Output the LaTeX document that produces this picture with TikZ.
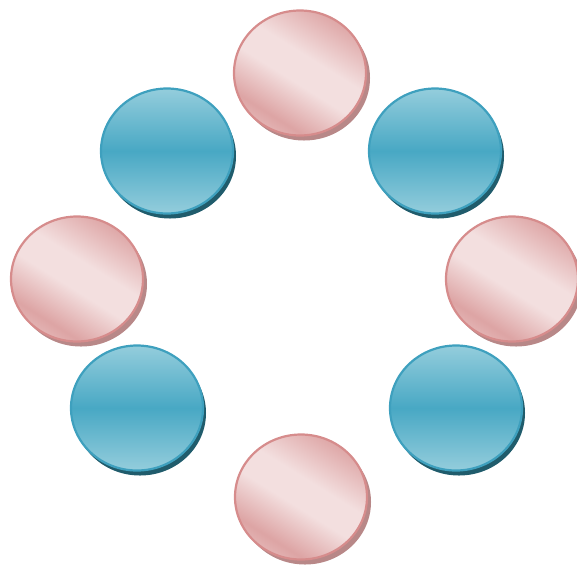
\documentclass[tikz,border=0pt]{standalone}
\usetikzlibrary{shapes.geometric,shadows}
\definecolor{pkLight}{RGB}{243,223,223}
\definecolor{pkMid}{RGB}{232,194,194}
\definecolor{pkDark}{RGB}{221,164,164}
\definecolor{pkBorder}{RGB}{214,140,140}
\definecolor{pkShadow}{RGB}{184,136,136}
\definecolor{blLight}{RGB}{148,205,220}
\definecolor{blMid}{RGB}{72,168,196}
\definecolor{blBorder}{RGB}{62,160,190}
\definecolor{blShadow}{RGB}{32,92,108}
\pgfdeclarehorizontalshading{pinkgrad}{100bp}{%
  color(0bp)=(pkMid); color(20bp)=(pkMid); color(30bp)=(pkDark);
  color(46bp)=(pkLight); color(57bp)=(pkLight); color(76bp)=(pkDark);
  color(100bp)=(pkDark)}
\tikzset{
  disc/.style={ellipse, inner sep=0pt, minimum width=132pt, minimum height=125pt, line width=2.2pt},
  pinkdisc/.style={disc, draw=pkBorder, shading=pinkgrad, shading angle=58,
    drop shadow={shadow xshift=4pt, shadow yshift=-5pt, fill=pkShadow, opacity=1}},
  bluedisc/.style={disc, draw=blBorder, top color=blLight, bottom color=blLight, middle color=blMid,
    drop shadow={shadow xshift=3pt, shadow yshift=-5pt, fill=blShadow, opacity=1}},
}
\begin{document}
\begin{tikzpicture}[x=1pt,y=-1pt]
\useasboundingbox (0,0) rectangle (577,566);
\clip (0,0) rectangle (577,566);
\node[pinkdisc] (top) at (300,73) {};
\node[bluedisc] (tl) at (167,151) {};
\node[bluedisc] (tr) at (435,151) {};
\node[pinkdisc] (left) at (77,279) {};
\node[pinkdisc] (right) at (512,279) {};
\node[bluedisc] (bl) at (137,408) {};
\node[bluedisc] (br) at (456,408) {};
\node[pinkdisc] (bottom) at (301,497) {};
\end{tikzpicture}
\end{document}
